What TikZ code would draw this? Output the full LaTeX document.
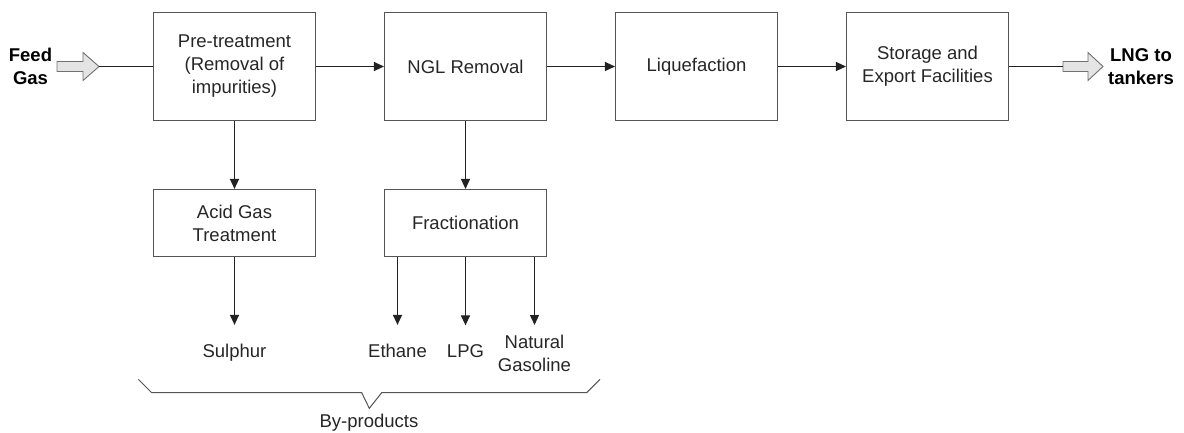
\documentclass[tikz,border=0pt]{standalone}
\usepackage{fontspec}
\setmainfont{Liberation Sans}
\usetikzlibrary{arrows.meta}
\definecolor{boxline}{HTML}{555555}
\definecolor{connc}{HTML}{222222}
\definecolor{hollow}{HTML}{E4E4E4}
\definecolor{hollowline}{HTML}{707070}
\definecolor{txtc}{HTML}{262626}
\begin{document}
\begin{tikzpicture}[x=1pt,y=-1pt,
  txt/.style={font=\fontsize{18.5}{23}\selectfont, text=txtc},
  proc/.style={txt, draw=boxline, line width=1.1pt, minimum width=162pt, minimum height=108pt, align=center, inner sep=0pt},
  sub/.style={proc, minimum height=67pt},
  lbl/.style={txt, inner sep=0pt, align=center},
  boldlbl/.style={font=\fontsize{18.5}{23}\selectfont\bfseries, text=black, inner sep=0pt, align=center},
  conn/.style={draw=connc, line width=1.2pt, -{Triangle[length=10pt,width=9pt]}},
  plainline/.style={draw=connc, line width=1.2pt},
  hollowarr/.style={draw=hollowline, fill=hollow, line width=0.9pt, line join=miter},
  bracel/.style={draw=boxline, line width=1pt}
]
\useasboundingbox (0,0) rectangle (1184,432);

% main process boxes
\node[proc] (pre) at (234.5,66.5) {Pre-treatment\\(Removal of\\impurities)};
\node[proc] (ngl) at (465.5,66.5) {NGL Removal};
\node[proc] (liq) at (696.5,66.5) {Liquefaction};
\node[proc] (sto) at (927.5,66.5) {Storage and\\Export Facilities};
\node[sub] (acid) at (234.5,223) {Acid Gas\\Treatment};
\node[sub] (frac) at (465.5,223) {Fractionation};

% feed and product
\node[boldlbl] (feed) at (30.5,66.5) {Feed\\Gas};
\node[boldlbl] (lng) at (1141,66.5) {LNG to\\tankers};

% hollow block arrows
\draw[hollowarr] (57,61.5) -- (83,61.5) -- (83,52.5) -- (99,66.5) -- (83,80.5) -- (83,71.5) -- (57,71.5) -- cycle;
\coordinate (fintip) at (99,66.5);
\draw[hollowarr] (1063,61.5) -- (1088,61.5) -- (1088,52.5) -- (1103,66.5) -- (1088,80.5) -- (1088,71.5) -- (1063,71.5) -- cycle;
\coordinate (fouttail) at (1063,66.5);

% main line
\draw[plainline] (fintip) -- (pre.west);
\draw[conn] (pre) -- (ngl);
\draw[conn] (ngl) -- (liq);
\draw[conn] (liq) -- (sto);
\draw[plainline] (sto.east) -- (fouttail);

% branches
\draw[conn] (pre) -- (acid);
\draw[conn] (ngl) -- (frac);

% by-product labels
\node[lbl, anchor=base] (sul) at (234.5,357) {Sulphur};
\node[lbl, anchor=base] (eth) at (397.5,357) {Ethane};
\node[lbl, anchor=base] (lpg) at (465.5,357) {LPG};
\node[lbl, anchor=north] (nat) at (534.5,334.5) {Natural\\Gasoline};

\draw[conn, shorten >=18.5pt] (acid) -- (sul);
\draw[conn, shorten >=18.5pt] (frac.south -| eth) -- (eth);
\draw[conn, shorten >=18.5pt] (frac.south -| lpg) -- (lpg);
\draw[conn, shorten >=9.5pt] (frac.south -| nat) -- (nat);

% brace
\draw[bracel] (138.3,379.3) -- (151.7,392.7) -- (361.7,392.7) -- (369.3,408.3) -- (381.7,392.7) -- (586.7,392.7) -- (600,379.3);
\node[lbl, anchor=base] (byp) at (369,427) {By-products};
\end{tikzpicture}
\end{document}
